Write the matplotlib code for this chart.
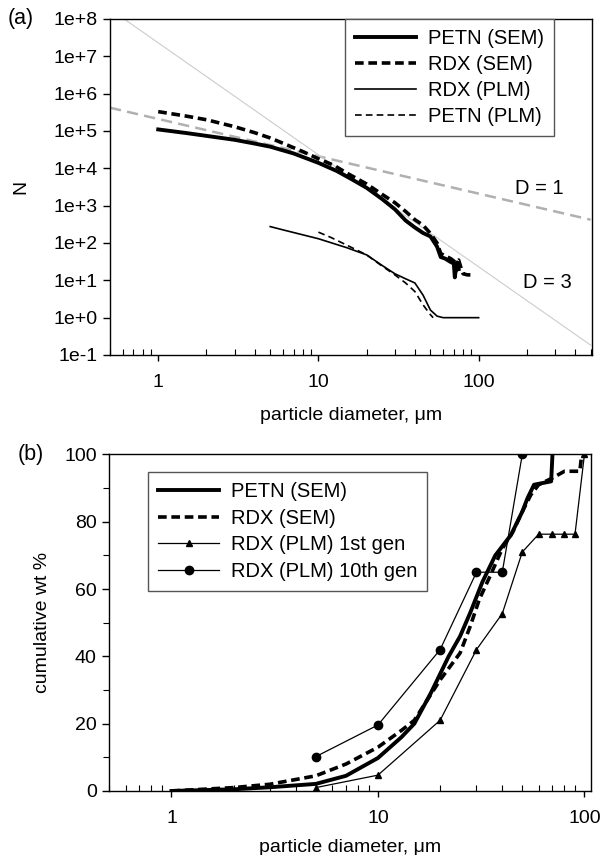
import numpy as np
import matplotlib
matplotlib.use("Agg")
import matplotlib.pyplot as plt
from matplotlib.ticker import LogLocator, FixedLocator, NullFormatter, FuncFormatter

plt.rcParams['font.family'] = ['Liberation Sans', 'DejaVu Sans']
plt.rcParams['font.size'] = 14

# ---- panel (a): number of particles larger than d ----
petn_sem_d = [1, 1.5, 2, 3, 4, 5, 7, 10, 13, 16, 20, 25, 30, 35, 40, 45, 50, 55, 58, 62, 66, 70, 71, 73, 75]
petn_sem_n = [1.1e5, 8.8e4, 7.4e4, 5.8e4, 4.6e4, 3.8e4, 2.5e4, 1.4e4, 8.5e3, 5.2e3, 3.0e3, 1.5e3,
              800, 400, 260, 185, 150, 80, 42, 38, 32, 28, 12, 30, 20]
rdx_sem_d = [1, 1.5, 2, 3, 4, 5, 6, 8, 10, 12.5, 15, 20, 25, 30, 35, 40, 45, 50, 55, 58, 62, 67,
             72, 75, 78, 80, 85, 90]
rdx_sem_n = [3.3e5, 2.5e5, 2.0e5, 1.3e5, 9.0e4, 6.5e4, 4.7e4, 2.8e4, 1.8e4, 1.2e4, 7.5e3, 3.8e3,
             2.0e3, 1.2e3, 700, 420, 300, 180, 100, 52, 45, 38, 30, 35, 20, 15, 14, 14]
rdx_plm_d = [5, 6, 10, 15, 20, 25, 30, 35, 40, 45, 50, 55, 60, 100]
rdx_plm_n = [275, 225, 130, 75, 48, 25, 15, 11, 8.5, 4, 1.6, 1.1, 1, 1]
petn_plm_d = [10, 12, 15, 20, 25, 30, 35, 40, 45, 50, 52]
petn_plm_n = [195, 140, 88, 48, 24, 14, 8.5, 5, 2.2, 1.2, 1]

# fractal reference lines N = C / d^D
d1_coef = 2.1e5
d3_coef = 2.3e7

# ---- panel (b): cumulative weight percent ----
petn_cum_d = [1, 2, 3, 5, 7, 10, 13, 15, 18, 22, 25, 28, 32, 37, 44, 50, 53, 57, 69, 70]
petn_cum_w = [0, 0.5, 1.1, 2.1, 4.5, 9.8, 16, 20, 29, 40, 46, 53, 62, 70, 76, 83, 87, 91, 92, 100]
rdx_cum_d = [1, 2, 3, 5, 7, 10, 13, 15, 20, 25, 28, 31, 35, 40, 45, 50, 55, 60, 70, 80, 95, 97]
rdx_cum_w = [0, 1.0, 2.0, 4.5, 8, 13, 18, 21, 33, 41, 49, 57, 64, 72, 77, 83, 88, 91, 93, 95, 95, 100]
gen1_d = [5, 10, 20, 30, 40, 50, 60, 70, 80, 90, 100]
gen1_w = [1, 4.7, 21, 42, 52.7, 71, 76.3, 76.3, 76.3, 76.3, 100]
gen10_d = [5, 10, 20, 30, 40, 50]
gen10_w = [10.2, 19.6, 42, 65, 65, 100]

fig = plt.figure(figsize=(6.02, 8.55), dpi=100)
ax1 = fig.add_axes([0.1827, 0.5848, 0.8007, 0.393])
ax2 = fig.add_axes([0.1816, 0.0749, 0.8007, 0.3936])

# reference lines
dref = np.array([0.5, 500])
ax1.plot(dref, d1_coef / dref, color='#b0b0b0', lw=1.8, dashes=(4.5, 2.5), zorder=1)
ax1.plot(dref, d3_coef / dref ** 3, color='#cccccc', lw=0.8, zorder=1)

ax1.plot(petn_sem_d, petn_sem_n, color='black', lw=2.8, label='PETN (SEM)', zorder=3)
ax1.plot(rdx_sem_d, rdx_sem_n, color='black', lw=2.6, dashes=(2.4, 1.3), label='RDX (SEM)', zorder=3)
ax1.plot(rdx_plm_d, rdx_plm_n, color='black', lw=1.2, label='RDX (PLM)', zorder=3)
ax1.plot(petn_plm_d, petn_plm_n, color='black', lw=1.2, dashes=(4, 2.5), label='PETN (PLM)', zorder=3)

ax1.text(240, 2.8e3, 'D = 1', ha='center', va='center', fontsize=14.5)
ax1.text(270, 8.5, 'D = 3', ha='center', va='center', fontsize=14.5)

ax1.set_xscale('log')
ax1.set_yscale('log')
ax1.set_xlim(0.5, 510)
ax1.set_ylim(1e-1, 1e8)
ax1.yaxis.set_major_locator(FixedLocator([10.0 ** k for k in range(-1, 9)]))
ax1.yaxis.set_minor_locator(FixedLocator([]))
ax1.yaxis.set_major_formatter(FuncFormatter(lambda v, p: '1e%+d' % int(round(np.log10(v)))))
ax1.xaxis.set_major_locator(FixedLocator([1, 10, 100]))
ax1.xaxis.set_major_formatter(FuncFormatter(lambda v, p: '%g' % v))
ax1.xaxis.set_minor_locator(LogLocator(base=10, subs=np.arange(2, 10)))
ax1.xaxis.set_minor_formatter(NullFormatter())
ax1.set_xlabel('particle diameter, \u03bcm', labelpad=11)
ax1.set_ylabel('N')
ax1.yaxis.set_label_coords(-0.168, 0.5)

leg1 = ax1.legend(loc='upper right', bbox_to_anchor=(0.921, 1.0), borderaxespad=0,
                  fancybox=False, edgecolor='#555555', framealpha=1, handlelength=3.0,
                  fontsize=14.5, labelspacing=0.35, borderpad=0.5, handletextpad=0.6)
leg1.get_frame().set_linewidth(1.0)

# panel (b)
ax2.plot(petn_cum_d, petn_cum_w, color='black', lw=2.8, label='PETN (SEM)', zorder=3)
ax2.plot(rdx_cum_d, rdx_cum_w, color='black', lw=2.6, dashes=(2.4, 1.3), label='RDX (SEM)', zorder=3)
ax2.plot(gen1_d, gen1_w, color='black', lw=0.9, marker='^', ms=5, label='RDX (PLM) 1st gen', zorder=4)
ax2.plot(gen10_d, gen10_w, color='black', lw=0.9, marker='o', ms=6, label='RDX (PLM) 10th gen', zorder=4)

ax2.set_xscale('log')
ax2.set_xlim(0.5, 108)
ax2.set_ylim(0, 100)
ax2.xaxis.set_major_locator(FixedLocator([1, 10, 100]))
ax2.xaxis.set_major_formatter(FuncFormatter(lambda v, p: '%g' % v))
ax2.xaxis.set_minor_locator(LogLocator(base=10, subs=np.arange(2, 10)))
ax2.xaxis.set_minor_formatter(NullFormatter())
ax2.yaxis.set_major_locator(FixedLocator([0, 20, 40, 60, 80, 100]))
ax2.yaxis.set_minor_locator(FixedLocator([10, 30, 50, 70, 90]))
ax2.set_xlabel('particle diameter, \u03bcm', labelpad=8)
ax2.set_ylabel('cumulative wt %')
ax2.yaxis.set_label_coords(-0.122, 0.5)

leg2 = ax2.legend(loc='upper left', bbox_to_anchor=(0.081, 0.948), borderaxespad=0,
                  fancybox=False, edgecolor='#555555', framealpha=1, handlelength=3.0,
                  fontsize=14.5, labelspacing=0.38, borderpad=0.5, handletextpad=0.6)
leg2.get_frame().set_linewidth(1.0)

for ax in (ax1, ax2):
    for s in ax.spines.values():
        s.set_linewidth(1.0)
    ax.tick_params(axis='x', which='major', direction='out', length=4, width=1, pad=10, labelsize=14)
    ax.tick_params(axis='x', which='minor', direction='in', length=4, width=0.8)
    ax.tick_params(axis='y', which='major', direction='out', length=5, width=1, pad=4, labelsize=14)
    ax.tick_params(axis='y', which='minor', direction='out', length=4, width=0.8)

fig.text(0.013, 0.978, '(a)', fontsize=15.5, va='center')
fig.text(0.030, 0.468, '(b)', fontsize=15.5, va='center')

fig.savefig('out.png', dpi=100)
